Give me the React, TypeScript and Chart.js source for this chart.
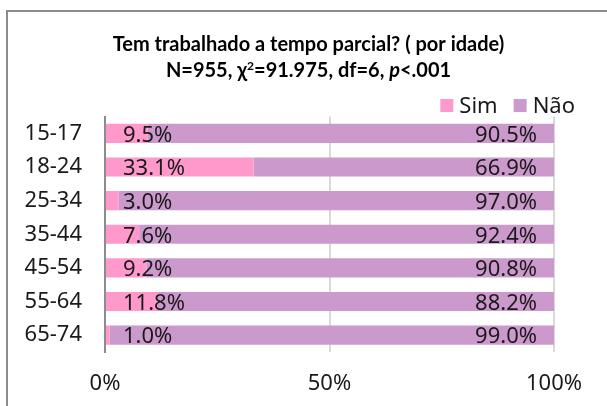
import React, { useEffect, useRef } from 'react';
import { Chart, registerables } from 'chart.js';

Chart.register(...registerables);

// ---- data ----
const categories = ['15-17', '18-24', '25-34', '35-44', '45-54', '55-64', '65-74'];
const seriesNames = ['Sim', 'Não'];
const simValues = [9.5, 33.1, 3.0, 7.6, 9.2, 11.8, 1.0];
const naoValues = [90.5, 66.9, 97.0, 92.4, 90.8, 88.2, 99.0];
const xTickValues = [0, 50, 100];
const titleLine1 = 'Tem trabalhado a tempo parcial? ( por idade)';
const titleLine2 = [
  { t: 'N=955, χ' },
  { t: '2', sup: true },
  { t: '=91.975, df=6, ' },
  { t: 'p', italic: true },
  { t: '<.001' },
];

const SIM_COLOR = '#FF99CC';
const NAO_COLOR = '#CC99CC';
const TEXT_FONT = '"Noto Sans", "Open Sans", sans-serif';
const TITLE_FONT = 'Lato, "Open Sans", sans-serif';
const TEXT_SIZE = 22;
const TITLE_SIZE = 20;

const titlePlugin = {
  id: 'customTitle',
  afterDraw(chart: any) {
    const ctx = chart.ctx;
    const cx = chart.width / 2 + 5;
    ctx.save();
    ctx.fillStyle = '#000';
    ctx.textBaseline = 'alphabetic';
    ctx.textAlign = 'left';
    ctx.font = `bold ${TITLE_SIZE}px ${TITLE_FONT}`;
    const w1 = ctx.measureText(titleLine1).width;
    ctx.fillText(titleLine1, cx - w1 / 2, 51);
    const fontFor = (s: any) =>
      s.sup
        ? `bold ${Math.round(TITLE_SIZE * 0.62)}px ${TITLE_FONT}`
        : s.italic
        ? `italic bold ${TITLE_SIZE}px ${TITLE_FONT}`
        : `bold ${TITLE_SIZE}px ${TITLE_FONT}`;
    let total = 0;
    const widths = titleLine2.map((s) => {
      ctx.font = fontFor(s);
      const w = ctx.measureText(s.t).width;
      total += w;
      return w;
    });
    let x = cx - total / 2;
    titleLine2.forEach((s, i) => {
      ctx.font = fontFor(s);
      ctx.fillText(s.t, x, s.sup ? 70 : 77);
      x += widths[i];
    });
    ctx.restore();
  },
};

const legendPlugin = {
  id: 'customLegend',
  afterDraw(chart: any) {
    const ctx = chart.ctx;
    ctx.save();
    ctx.font = `${TEXT_SIZE}px ${TEXT_FONT}`;
    ctx.textBaseline = 'middle';
    ctx.textAlign = 'left';
    const box = 13;
    const gapText = 6;
    const gapItem = 16;
    const items = chart.data.datasets.map((d: any) => ({
      text: d.label,
      color: d.backgroundColor,
      w: ctx.measureText(d.label).width,
    }));
    let total = 0;
    items.forEach((it: any, i: number) => {
      total += box + gapText + it.w + (i < items.length - 1 ? gapItem : 0);
    });
    const right = chart.chartArea.right + 21;
    let x = right - total;
    const cy = 105.5;
    items.forEach((it: any) => {
      ctx.fillStyle = it.color;
      ctx.fillRect(x, cy - box / 2, box, box);
      x += box + gapText;
      ctx.fillStyle = '#1a1a1a';
      ctx.fillText(it.text, x, cy + 1.5);
      x += it.w + gapItem;
    });
    ctx.restore();
  },
};

const barLabelPlugin = {
  id: 'barLabels',
  afterDatasetsDraw(chart: any) {
    const ctx = chart.ctx;
    ctx.save();
    ctx.font = `${TEXT_SIZE}px ${TEXT_FONT}`;
    ctx.fillStyle = '#1a1a1a';
    ctx.textBaseline = 'middle';
    chart.data.datasets.forEach((ds: any, di: number) => {
      const meta = chart.getDatasetMeta(di);
      meta.data.forEach((bar: any, i: number) => {
        const v = ds.data[i];
        const txt = v.toFixed(1) + '%';
        const p = bar.getProps(['x', 'y', 'base'], true);
        if (di === 0) {
          ctx.textAlign = 'left';
          ctx.fillText(txt, p.base + 17, p.y + 2);
        } else {
          ctx.textAlign = 'right';
          ctx.fillText(txt, p.x - 17, p.y + 2);
        }
      });
    });
    ctx.restore();
  },
};

export default function App() {
  const ref = useRef<HTMLCanvasElement | null>(null);

  useEffect(() => {
    if (!ref.current) return;
    const chart = new Chart(ref.current, {
      type: 'bar',
      data: {
        labels: categories,
        datasets: [
          {
            label: seriesNames[0],
            data: simValues,
            backgroundColor: SIM_COLOR,
            borderWidth: 0,
            barPercentage: 0.57,
            categoryPercentage: 1,
          },
          {
            label: seriesNames[1],
            data: naoValues,
            backgroundColor: NAO_COLOR,
            borderWidth: 0,
            barPercentage: 0.57,
            categoryPercentage: 1,
          },
        ],
      },
      options: {
        indexAxis: 'y',
        responsive: false,
        animation: false,
        layout: { padding: { top: 116.5, left: 10, right: 0, bottom: 0 } },
        plugins: {
          legend: { display: false },
          title: { display: false },
          tooltip: { enabled: false },
        },
        scales: {
          x: {
            stacked: true,
            min: 0,
            max: 100,
            afterBuildTicks: (scale: any) => {
              scale.ticks = xTickValues.map((v) => ({ value: v }));
            },
            afterFit: (scale: any) => {
              scale.height = 54;
              scale.paddingRight = 53;
            },
            ticks: {
              callback: (v: any) => v + '%',
              color: '#1a1a1a',
              font: { family: TEXT_FONT, size: TEXT_SIZE },
              padding: 19,
              maxRotation: 0,
            },
            grid: {
              color: (c: any) => (c.index === 0 ? 'rgba(0,0,0,0)' : '#d9d9d9'),
              lineWidth: 2,
              drawTicks: false,
            },
            border: { display: false },
          },
          y: {
            stacked: true,
            afterFit: (scale: any) => {
              scale.width = 95;
            },
            ticks: {
              color: '#1a1a1a',
              font: { family: TEXT_FONT, size: TEXT_SIZE },
              padding: 23,
            },
            grid: { color: 'rgba(0,0,0,0)', drawTicks: false },
            border: { display: true, color: '#8c8c8c', width: 2 },
          },
        },
      },
      plugins: [barLabelPlugin, titlePlugin, legendPlugin],
    });
    return () => chart.destroy();
  }, []);

  return (
    <div
      style={{
        position: 'fixed',
        left: 0,
        top: 0,
        width: 607,
        height: 406,
        overflow: 'hidden',
        background: '#ffffff',
      }}
    >
      <div
        style={{
          position: 'absolute',
          left: 6,
          top: 10,
          width: 700,
          height: 500,
          border: '2px solid #8c8c8c',
          boxSizing: 'border-box',
        }}
      />
      <canvas
        ref={ref}
        width={607}
        height={406}
        style={{ position: 'absolute', left: 0, top: 0, width: 607, height: 406 }}
      />
    </div>
  );
}
